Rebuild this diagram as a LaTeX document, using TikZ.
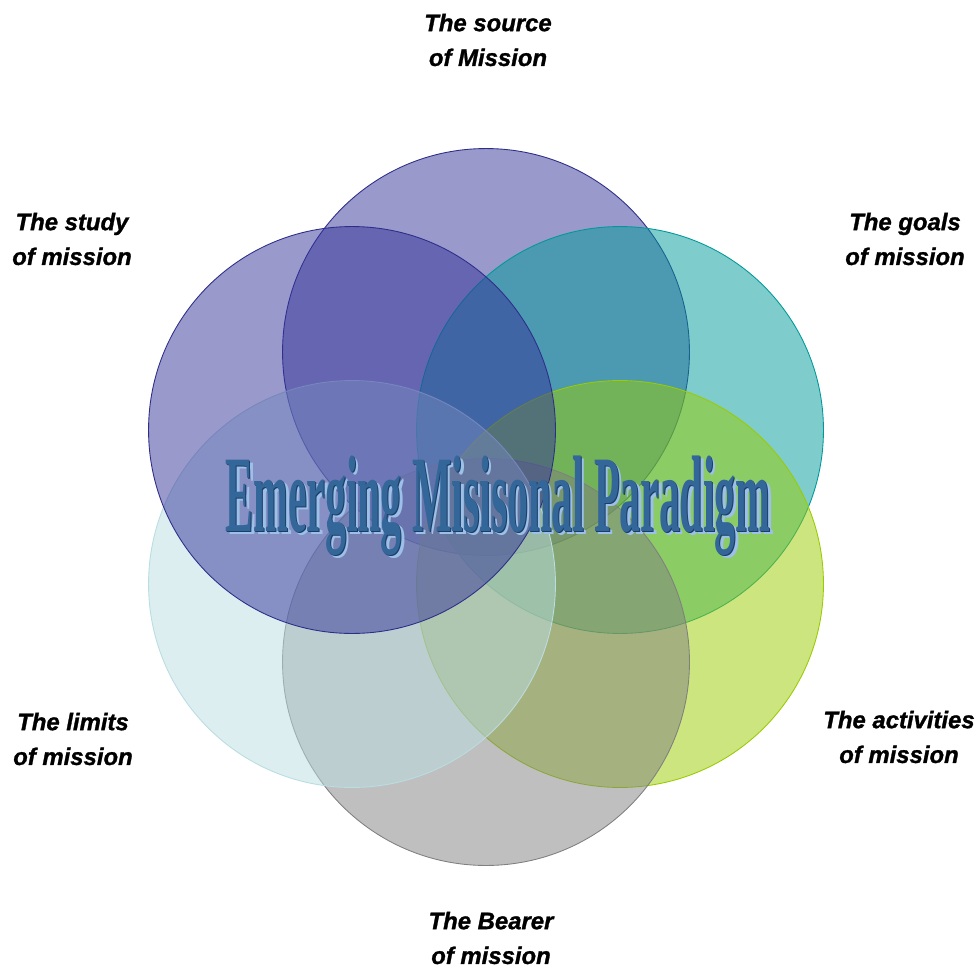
\documentclass[tikz,border=0pt]{standalone}
\usepackage{fontspec}
\usepackage{graphicx}
\setmainfont{Liberation Sans}[BoldItalicFeatures={FakeBold=1.2}]
\newfontfamily\titlefont{Liberation Serif}

\definecolor{navyring}{HTML}{333399}
\definecolor{tealring}{HTML}{009999}
\definecolor{limering}{HTML}{99CC00}
\definecolor{grayring}{HTML}{808080}
\definecolor{icering}{HTML}{B9DDE1}
\definecolor{titleblue}{HTML}{336699}
\definecolor{titleedge}{HTML}{1C3E66}
\definecolor{titleshade}{HTML}{9CC0E8}

\begin{document}
\begin{tikzpicture}[
				x=0.02cm, y=-0.02cm,
				ring/.style={circle, minimum size=8.14cm, inner sep=0pt, fill opacity=0.5, line width=0.5pt},
				label/.style={align=center, font=\fontsize{13.6}{19.8}\selectfont\bfseries\itshape},
				title/.style={anchor=base, inner sep=0pt, font=\titlefont\bfseries\fontsize{62}{62}\selectfont}]
				
				\useasboundingbox (0,0) rectangle (976,970);
				
				% Rings
				\node[ring, fill=navyring, draw=navyring!90!black] (source) at (486,352) {};
				\node[ring, fill=tealring, draw=tealring] (goals) at (620,430) {};
				\node[ring, fill=limering, draw=limering] (activities) at (620,584) {};
				\node[ring, fill=grayring, draw=grayring] (bearer) at (486,662) {};
				\node[ring, fill=icering, draw=icering] (limits) at (352,584) {};
				\node[ring, fill=navyring, draw=navyring!90!black] (study) at (352,430) {};
				
				% Title
				\node[title, text=titleshade] (titleshadow) at (501.5,534) {\scalebox{0.383}[1]{Emerging Misisonal Paradigm}};
				\node[title, text=titleedge] (titleedge) at (499,532) {\scalebox{0.383}[1]{Emerging Misisonal Paradigm}};
				\node[title, text=titleblue] (maintitle) at (498,531) {\scalebox{0.383}[1]{Emerging Misisonal Paradigm}};
				
				% Labels
				\node[label] (sourcelbl) at (488,40) {The source\\of Mission};
				\node[label] (studylbl) at (72,239) {The study\\of mission};
				\node[label] (goalslbl) at (905,239) {The goals\\of mission};
				\node[label] (activitieslbl) at (899,737) {The activities\\of mission};
				\node[label] (limitslbl) at (73,739) {The limits\\of mission};
				\node[label] (bearerlbl) at (491,938) {The Bearer\\of mission};
			\end{tikzpicture}
\end{document}
